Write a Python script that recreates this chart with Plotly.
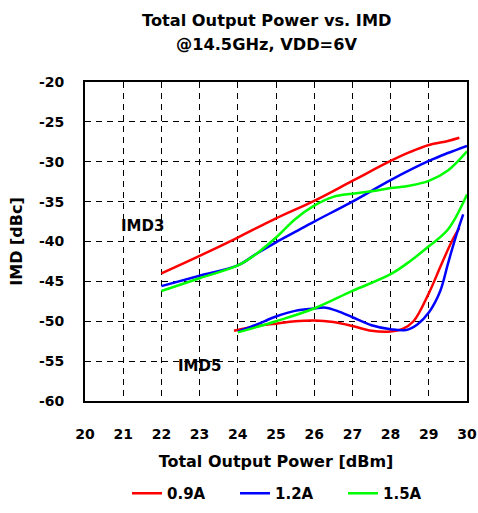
import plotly.graph_objects as go

# IMD3 curves (x in dBm, y in dBc)
imd3_x_09 = [22, 23, 24, 25, 26, 27, 28, 28.5, 29, 29.5, 29.8]
imd3_y_09 = [-44, -41.8, -39.5, -37.1, -34.9, -32.4, -29.9, -28.8, -27.9, -27.4, -27.0]
imd3_x_12 = [22, 23, 24, 24.5, 25, 25.5, 26, 27, 28, 29, 29.5, 30]
imd3_y_12 = [-45.6, -44.3, -43.0, -41.5, -40.1, -38.8, -37.5, -35.0, -32.3, -29.9, -28.9, -28.0]
imd3_x_15 = [22, 23, 24, 24.5, 25, 25.5, 26, 26.5, 27, 27.5, 28, 28.5, 29, 29.5, 30]
imd3_y_15 = [-46.2, -44.6, -43.0, -41.5, -39.5, -37.2, -35.5, -34.4, -34.0, -33.7, -33.3, -33.0, -32.4, -31.1, -28.7]

# IMD5 curves
imd5_x_09 = [23.9, 24.5, 25, 25.5, 26, 26.5, 27, 27.5, 28, 28.3, 28.6, 29, 29.3, 29.6, 29.8]
imd5_y_09 = [-51.2, -50.6, -50.3, -50.0, -49.9, -50.1, -50.6, -51.2, -51.3, -51.0, -50.0, -46.5, -43.2, -40.0, -38.3]
imd5_x_12 = [24, 24.5, 25, 25.5, 26, 26.3, 26.6, 27, 27.5, 28, 28.4, 28.7, 29, 29.3, 29.5, 29.7, 29.9]
imd5_y_12 = [-51.3, -50.4, -49.4, -48.7, -48.4, -48.3, -48.7, -49.5, -50.5, -51.0, -51.1, -50.4, -48.9, -46.2, -42.8, -39.5, -36.6]
imd5_x_15 = [24, 25, 26, 27, 28, 28.5, 29, 29.5, 30]
imd5_y_15 = [-51.4, -50.0, -48.4, -46.2, -44.1, -42.5, -40.6, -38.5, -34.1]

x_ticks = list(range(20, 31))
y_ticks = list(range(-60, -19, 5))

title_lines = ["Total Output Power vs. IMD", "@14.5GHz, VDD=6V"]

series = [
    ("0.9A", "#ff0000", imd3_x_09, imd3_y_09, imd5_x_09, imd5_y_09),
    ("1.2A", "#0000ff", imd3_x_12, imd3_y_12, imd5_x_12, imd5_y_12),
    ("1.5A", "#00ff00", imd3_x_15, imd3_y_15, imd5_x_15, imd5_y_15),
]

fig = go.Figure()
for name, color, x3, y3, x5, y5 in series:
    fig.add_trace(go.Scatter(x=x3, y=y3, mode="lines", name=f"<b>{name}</b>", legendgroup=name,
                             line=dict(color=color, width=2.5, shape="spline")))
    fig.add_trace(go.Scatter(x=x5, y=y5, mode="lines", name=name, legendgroup=name,
                             showlegend=False, line=dict(color=color, width=2.5, shape="spline")))

font_b = "DejaVu Sans, sans-serif"

fig.add_annotation(x=21.5, y=-38, text="<b>IMD3</b>", showarrow=False,
                   font=dict(size=15, color="black", family=font_b))
fig.add_annotation(x=23.0, y=-55.6, text="<b>IMD5</b>", showarrow=False,
                   font=dict(size=15, color="black", family=font_b))

# two title lines, placed separately to get the wide line spacing
for txt, ty in zip(title_lines, [1.194, 1.116]):
    fig.add_annotation(x=0.474, y=ty, xref="paper", yref="paper", text=f"<b>{txt}</b>",
                       showarrow=False, xanchor="center", yanchor="middle",
                       font=dict(size=16.2, color="black", family=font_b))

axis_common = dict(
    showgrid=True, gridcolor="black", gridwidth=1, griddash="6px,5px",
    showline=True, linecolor="black", linewidth=2, mirror=True,
    ticks="", zeroline=False,
    tickfont=dict(size=14, color="black", family=font_b),
)

fig.update_layout(
    width=478, height=513,
    paper_bgcolor="white", plot_bgcolor="white",
    margin=dict(l=85, r=11, t=82, b=112, autoexpand=False),
    xaxis=dict(range=[20, 30], tickvals=x_ticks,
               ticktext=[f"<b>{v}</b>" for v in x_ticks],
               ticklabelstandoff=19,
               title=dict(text="<b>Total Output Power [dBm]</b>", standoff=15,
                          font=dict(size=16, color="black", family=font_b)),
               **axis_common),
    yaxis=dict(range=[-60, -20], tickvals=y_ticks,
               ticktext=[f"<b>{v}</b>" for v in y_ticks],
               ticklabelstandoff=16,
               title=dict(text="<b>IMD [dBc]</b>", standoff=12,
                          font=dict(size=16, color="black", family=font_b)),
               **axis_common),
    legend=dict(orientation="h", x=0.11, xanchor="left", y=-0.29, yanchor="middle",
                font=dict(size=15, color="black", family=font_b),
                entrywidth=63, entrywidthmode="pixels", itemwidth=30),
    showlegend=True,
)

# drop the default page margin so the figure fills the window exactly
fig.write_html("out.html", config={"displayModeBar": False},
               post_script="document.body.style.margin='0';")
